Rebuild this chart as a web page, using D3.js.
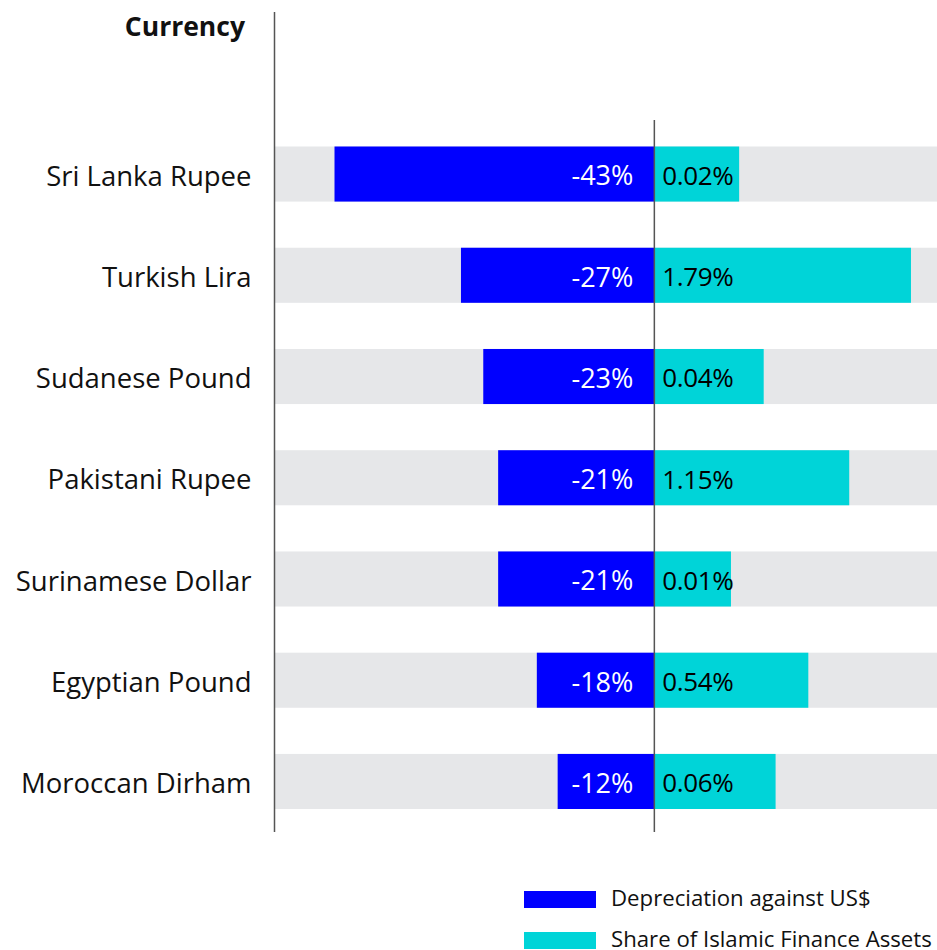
<!DOCTYPE html>
<html>
<head>
<meta charset="utf-8">
<script src="https://cdn.jsdelivr.net/npm/d3@7"></script>
<style>
  html, body { margin: 0; padding: 0; background: #fff; }
  svg { display: block; }
  text { font-family: "Open Sans", Lato, sans-serif; }
</style>
</head>
<body>
<svg id="chart" width="937" height="950"></svg>
<script>
// ---- data ----
const categories = ["Sri Lanka Rupee", "Turkish Lira", "Sudanese Pound", "Pakistani Rupee",
                    "Surinamese Dollar", "Egyptian Pound", "Moroccan Dirham"];
// depreciation bar lengths as drawn (percentage points)
const depreciation = [43, 26, 23, 21, 21, 15.8, 13];
const depreciationLabels = ["-43%", "-27%", "-23%", "-21%", "-21%", "-18%", "-12%"];
// share of Islamic finance assets: bar lengths as drawn (on the same axis units)
const shareBar = [11.4, 34.5, 14.7, 26.2, 10.3, 20.7, 16.3];
const shareLabels = ["0.02%", "1.79%", "0.04%", "1.15%", "0.01%", "0.54%", "0.06%"];
const seriesNames = ["Depreciation against US$", "Share of Islamic Finance Assets"];
const axisTitle = "Currency";

// ---- layout ----
const left = 275, right = 937;
const colors = ["#0000FF", "#00D4D8"];
const svg = d3.select("#chart");

const x = d3.scaleLinear().domain([-51, 38]).range([left, right]);
const y = d3.scaleBand().domain(categories).range([146.5, 809]).paddingInner(0.456).paddingOuter(0);

const rows = categories.map((c, i) => ({
  c, dep: depreciation[i], depLabel: depreciationLabels[i], share: shareBar[i], shareLabel: shareLabels[i]
}));

// background bands
svg.append("g").selectAll("rect").data(rows).join("rect")
  .attr("x", x(-51)).attr("width", x(38) - x(-51))
  .attr("y", d => y(d.c)).attr("height", y.bandwidth())
  .attr("fill", "#E6E7E9");

// depreciation bars
svg.append("g").selectAll("rect").data(rows).join("rect")
  .attr("x", d => x(-d.dep)).attr("width", d => x(0) - x(-d.dep))
  .attr("y", d => y(d.c)).attr("height", y.bandwidth())
  .attr("fill", colors[0]);

// share bars
svg.append("g").selectAll("rect").data(rows).join("rect")
  .attr("x", x(0)).attr("width", d => x(d.share) - x(0))
  .attr("y", d => y(d.c)).attr("height", y.bandwidth())
  .attr("fill", colors[1]);

// value labels
svg.append("g").selectAll("text").data(rows).join("text")
  .attr("x", x(0) - 21).attr("y", d => y(d.c) + y.bandwidth() / 2)
  .attr("dy", "0.42em").attr("text-anchor", "end")
  .attr("fill", "#fff").attr("font-size", 27)
  .text(d => d.depLabel);

svg.append("g").selectAll("text").data(rows).join("text")
  .attr("x", x(0) + 8).attr("y", d => y(d.c) + y.bandwidth() / 2)
  .attr("dy", "0.42em").attr("text-anchor", "start")
  .attr("fill", "#000").attr("font-size", 26).attr("letter-spacing", -0.4)
  .text(d => d.shareLabel);

// category axis
const yAxis = d3.axisLeft(y).tickSize(0).tickPadding(23);
const ga = svg.append("g").attr("transform", `translate(${left - 0.5},0)`).call(yAxis);
ga.select(".domain").remove();
ga.selectAll("text").attr("font-size", 27.5).attr("fill", "#111")
  .attr("font-family", "'Open Sans', Lato, sans-serif").attr("dy", "0.42em");

// vertical axis lines
svg.append("line").attr("x1", left - 0.5).attr("x2", left - 0.5).attr("y1", 12).attr("y2", 832)
  .attr("stroke", "#555").attr("stroke-width", 1.5);
svg.append("line").attr("x1", x(0)).attr("x2", x(0)).attr("y1", 120).attr("y2", 832)
  .attr("stroke", "#555").attr("stroke-width", 1.5);

// title
svg.append("text").attr("x", 245).attr("y", 36).attr("text-anchor", "end")
  .attr("font-size", 26.5).attr("font-weight", "bold").attr("fill", "#111").text(axisTitle);

// legend
const lg = svg.append("g").selectAll("g").data(seriesNames).join("g")
  .attr("transform", (d, i) => `translate(524,${891 + i * 41})`);
lg.append("rect").attr("width", 72).attr("height", 17).attr("fill", (d, i) => colors[i]);
lg.append("text").attr("x", 87).attr("y", 15).attr("font-size", 22.2).attr("fill", "#111").text(d => d);
</script>
</body>
</html>
